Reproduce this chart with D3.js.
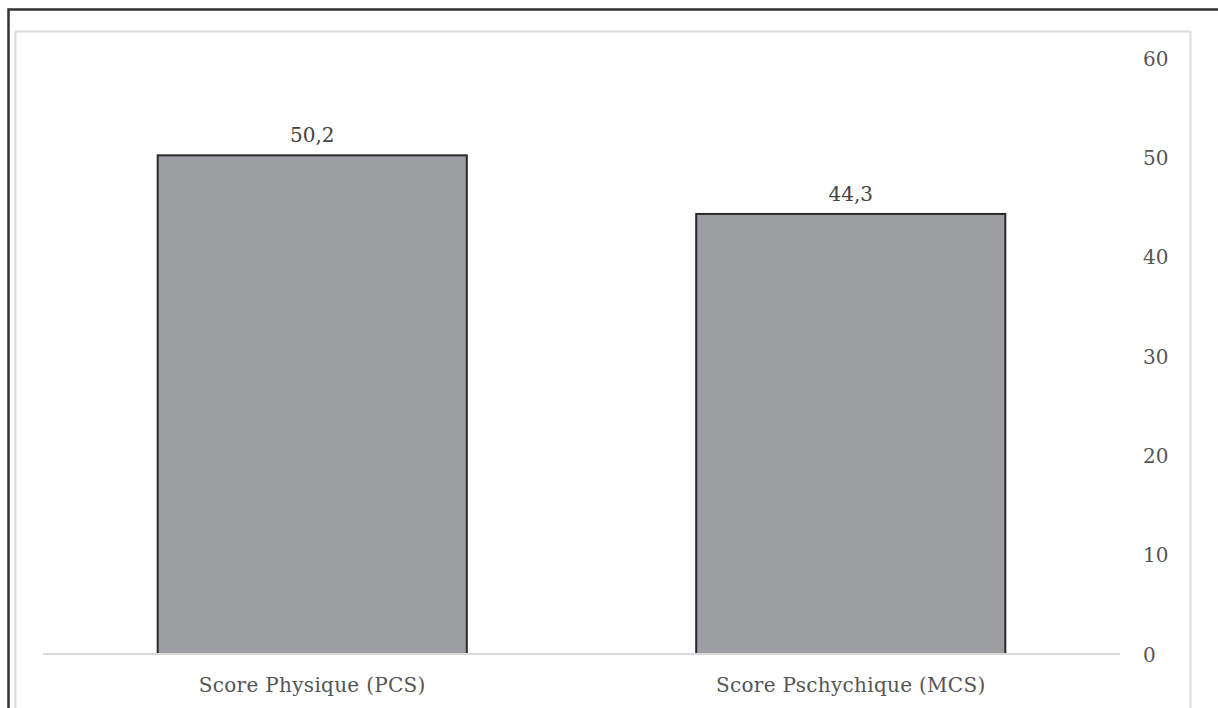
<!DOCTYPE html>
<html><head><meta charset="utf-8">
<script src="https://cdn.jsdelivr.net/npm/d3@7"></script>
<style>
html,body{margin:0;padding:0;background:#fff;}
svg{display:block;}
</style></head>
<body>
<script>
const categories = ["Score Physique (PCS)", "Score Pschychique (MCS)"];
const values = [50.2, 44.3];
const valueLabels = ["50,2", "44,3"];
const yTicks = [0, 10, 20, 30, 40, 50, 60];

const W = 1218, H = 708;
const svg = d3.select("body").append("svg").attr("width", W).attr("height", H);

// outer black frame (top and left visible)
svg.append("path").attr("d", "M8.5,708 L8.5,9.5 L1218,9.5").attr("fill","none").attr("stroke","#333").attr("stroke-width",2.5);
// inner light frame
svg.append("path").attr("d", "M15.5,708 L15.5,31.5 L1190.5,31.5 L1190.5,708").attr("fill","none").attr("stroke","#dcdcdc").attr("stroke-width",2);

const x = d3.scaleBand().domain(categories).range([43, 1120]).paddingInner(0.426).paddingOuter(0.213);
const y = d3.scaleLinear().domain([0, 60]).range([654, 58]);

const font = "'DejaVu Serif', serif";

// y axis labels (right)
const yAxis = d3.axisRight(y).tickValues(yTicks).tickSize(0).tickPadding(0).tickFormat(d3.format("d"));
const ya = svg.append("g").attr("transform", "translate(1143,0)").call(yAxis);
ya.select(".domain").remove();
ya.selectAll("text").attr("font-family", font).attr("font-size", 20).attr("fill", "#555").attr("dy","0.35em");

// bars
svg.selectAll("rect.bar").data(values).enter().append("rect")
  .attr("class","bar")
  .attr("x", (d,i) => x(categories[i]))
  .attr("y", d => y(d))
  .attr("width", x.bandwidth())
  .attr("height", d => y(0) - y(d))
  .attr("fill", "#9d9ea2")
  .attr("stroke", "#2a2a2a")
  .attr("stroke-width", 2);

// baseline
svg.append("line").attr("x1", 43).attr("x2", 1120).attr("y1", y(0)).attr("y2", y(0)).attr("stroke", "#d9d9d9").attr("stroke-width", 2);

// value labels
svg.selectAll("text.val").data(values).enter().append("text")
  .attr("class","val")
  .attr("x", (d,i) => x(categories[i]) + x.bandwidth()/2)
  .attr("y", d => y(d) - 13)
  .attr("text-anchor","middle")
  .attr("font-family", font).attr("font-size", 20).attr("fill", "#444")
  .text((d,i) => valueLabels[i]);

// x axis labels
const xAxis = d3.axisBottom(x).tickSize(0).tickPadding(0);
const xa = svg.append("g").attr("transform", `translate(0,${y(0)})`).call(xAxis);
xa.select(".domain").remove();
xa.selectAll("text").attr("dy", null).attr("y", 38).attr("font-family", font).attr("font-size", 20).attr("letter-spacing", 0.3).attr("fill", "#555");
</script>
</body></html>
